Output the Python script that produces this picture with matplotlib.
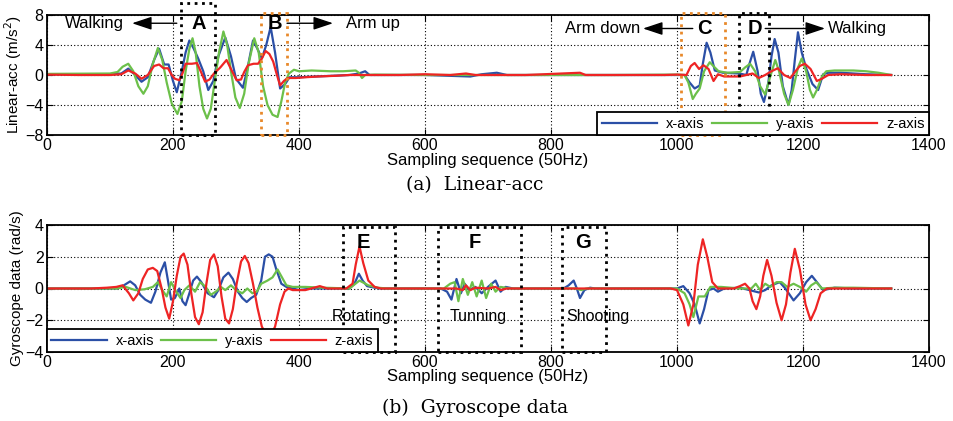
import matplotlib
matplotlib.use("Agg")
import matplotlib.pyplot as plt
from matplotlib.patches import Rectangle

plt.rcParams['font.family'] = ['Liberation Sans', 'DejaVu Sans']

# ---------------- data (sample index, value) ----------------
acc_x = [(0,0.1),(100,0.1),(118,0.2),(129,0.85),(140,0.0),(150,-0.9),(160,-0.3),(170,2.0),(178,3.5),(186,1.4),
         (193,1.4),(200,-0.8),(206,-2.3),(214,0.5),(220,3.0),(226,4.6),(233,3.5),(240,2.2),(248,0.5),(256,-2.0),
         (264,-0.8),(272,2.5),(283,5.0),(292,2.5),(300,-0.5),(311,-1.7),(318,0.8),(327,4.6),(334,3.5),(341,2.2),
         (348,4.0),(355,6.4),(362,3.0),(370,-1.8),(378,-1.2),(385,-0.3),(400,-0.3),(480,0.0),(495,0.2),(505,0.5),
         (512,0.0),(530,0.0),(600,0.0),(672,-0.2),(690,0.1),(714,0.3),(730,0.0),(800,0.0),(900,0.0),(1000,0.0),
         (1012,0.0),(1020,-1.0),(1028,-1.8),(1036,-1.4),(1041,1.5),(1047,4.3),(1053,3.0),(1060,0.6),(1073,0.3),(1099,0.2),
         (1110,0.0),(1115,1.5),(1121,3.1),(1128,0.5),(1133,-2.5),(1138,-3.6),(1145,-1.0),(1150,2.5),(1155,4.8),(1161,3.0),
         (1168,-1.5),(1177,-4.0),(1182,-2.0),(1187,2.0),(1192,5.7),(1198,3.0),(1205,0.9),(1215,-1.2),(1224,-2.0),(1232,0.1),
         (1240,0.3),(1260,0.3),(1300,0.1),(1340,0.0)]
acc_y = [(0,0.15),(100,0.2),(112,0.4),(120,1.1),(129,1.5),(137,0.5),(145,-1.5),(153,-2.5),(160,-1.5),(168,1.5),
         (176,3.6),(183,2.0),(190,-1.0),(198,-3.8),(207,-5.2),(214,-3.5),(220,0.5),(226,3.5),(231,4.9),(236,3.0),
         (242,-1.5),(248,-4.5),(254,-5.8),(260,-4.5),(266,-1.0),(273,3.0),(280,5.8),(286,4.0),(292,0.5),(299,-3.0),
         (306,-4.4),(313,-2.5),(320,1.5),(329,4.9),(336,3.0),(343,-1.5),(350,-4.0),(358,-5.3),(366,-5.6),(372,-3.5),
         (378,-1.0),(384,0.2),(392,0.7),(400,0.5),(420,0.6),(450,0.5),(470,0.5),(490,0.6),(495,0.3),(500,-0.4),
         (505,0.0),(520,0.05),(600,0.0),(700,0.0),(800,0.0),(900,0.0),(1000,0.05),(1012,0.0),(1018,-1.0),(1025,-3.2),
         (1030,-2.5),(1036,-1.8),(1043,0.5),(1052,1.7),(1060,1.0),(1066,0.5),(1080,0.3),(1100,0.4),(1108,1.0),(1116,1.5),
         (1124,0.5),(1132,-1.5),(1140,-2.6),(1147,-0.5),(1156,2.0),(1162,0.5),(1170,-2.5),(1177,-4.0),(1184,-2.0),(1192,1.0),
         (1198,2.2),(1205,0.5),(1211,-2.0),(1216,-3.0),(1222,-2.0),(1230,-0.2),(1237,0.5),(1250,0.6),(1280,0.6),(1300,0.5),
         (1320,0.3),(1340,0.0)]
acc_z = [(0,0.05),(50,0.0),(100,0.0),(118,0.1),(129,0.6),(140,0.2),(150,-0.5),(160,0.0),(170,1.2),(178,1.4),
         (185,0.9),(192,0.9),(198,0.0),(203,-0.5),(210,-0.7),(215,0.2),(220,1.5),(230,1.5),(238,1.6),(245,0.3),
         (251,-0.9),(258,-0.6),(265,0.2),(275,1.0),(285,2.0),(292,0.8),(301,-0.7),(308,-0.6),(313,0.4),(319,1.3),
         (328,1.5),(335,1.5),(341,2.2),(347,3.2),(353,2.8),(359,1.8),(365,0.0),(370,-1.4),(376,-0.8),(382,-0.4),
         (395,-0.4),(410,-0.3),(430,-0.2),(460,-0.1),(480,0.0),(560,0.0),(600,0.1),(640,0.0),(665,0.2),(680,0.0),
         (760,0.0),(846,0.3),(855,0.0),(900,0.0),(980,0.0),(1000,0.05),(1015,0.0),(1022,1.2),(1028,1.6),(1035,0.8),
         (1042,1.3),(1050,0.8),(1058,-0.8),(1065,0.1),(1075,-0.2),(1100,-0.2),(1120,0.2),(1130,-0.4),(1140,0.0),(1150,0.5),
         (1160,0.9),(1170,0.0),(1180,-0.4),(1188,0.5),(1195,1.2),(1203,1.5),(1212,0.8),(1222,-0.8),(1230,-0.5),(1240,0.0),
         (1260,0.1),(1300,0.0),(1340,0.0)]

gyr_x = [(0,0.0),(60,0.0),(110,0.0),(122,0.2),(132,0.45),(140,0.2),(148,-0.4),(156,-0.7),(165,-0.9),(172,-0.2),
         (180,1.0),(187,1.65),(192,0.5),(197,-0.7),(203,-0.6),(210,0.0),(215,-0.8),(220,-1.05),(226,-0.3),(232,0.5),
         (238,0.75),(245,0.4),(255,-0.3),(265,-0.55),(272,-0.1),(280,0.7),(288,1.0),(295,0.6),(303,-0.2),(310,-0.6),
         (317,-0.85),(324,-0.6),(332,-0.4),(340,0.5),(346,2.0),(352,2.15),(358,2.0),(364,1.2),(372,0.3),(380,0.1),
         (390,0.0),(400,0.1),(420,0.0),(480,0.0),(488,0.3),(495,0.93),(501,0.5),(508,0.15),(520,0.05),(530,0.0),
         (625,0.0),(635,-0.2),(642,-0.7),(650,0.6),(657,-0.3),(663,0.3),(670,-0.1),(680,0.1),(690,-0.3),(700,0.1),
         (712,0.5),(720,-0.2),(728,0.1),(740,0.0),(820,0.0),(828,0.2),(836,0.5),(841,0.0),(846,-0.6),(853,-0.1),
         (862,0.05),(870,0.0),(1000,0.0),(1010,0.15),(1020,-0.3),(1028,-1.0),(1036,-2.2),(1043,-1.3),(1050,-0.1),(1058,0.0),
         (1065,-0.2),(1075,0.0),(1100,0.05),(1115,-0.1),(1130,-0.25),(1140,-0.1),(1150,0.2),(1163,0.4),(1172,0.0),(1185,-0.75),
         (1195,-0.3),(1205,0.4),(1214,0.8),(1222,0.4),(1232,-0.1),(1250,0.05),(1280,0.0),(1340,0.0)]
gyr_y = [(0,0.0),(110,0.0),(125,0.1),(140,-0.1),(155,-0.05),(168,0.1),(176,0.4),(183,-0.1),(190,-0.5),(197,0.4),
         (205,-0.2),(212,-0.6),(218,-0.1),(226,0.2),(235,-0.2),(243,0.4),(252,0.1),(260,-0.4),(268,-0.2),(276,0.1),
         (283,-0.1),(292,0.2),(300,-0.1),(310,-0.3),(318,0.0),(326,-0.3),(333,-0.2),(340,0.3),(350,0.5),(358,0.7),
         (366,1.2),(373,0.7),(380,0.2),(390,0.1),(410,0.1),(440,0.05),(480,0.0),(496,0.5),(510,0.2),(525,0.05),
         (540,0.0),(630,0.0),(640,0.3),(647,0.4),(653,-0.8),(660,0.6),(668,-0.4),(675,0.4),(682,-0.5),(690,0.5),
         (697,-0.6),(705,0.3),(712,-0.2),(720,0.1),(735,0.0),(840,0.0),(848,-0.1),(856,0.0),(1000,0.0),(1012,-0.3),
         (1020,-1.0),(1026,-1.8),(1034,-0.5),(1044,-0.5),(1053,0.1),(1070,0.1),(1100,0.0),(1118,0.0),(1125,0.3),(1132,-0.1),
         (1140,0.3),(1148,0.1),(1158,0.4),(1166,0.4),(1175,0.1),(1185,0.3),(1195,0.1),(1205,-0.2),(1213,0.2),(1221,0.4),
         (1230,0.0),(1250,0.05),(1280,0.05),(1340,0.0)]
gyr_z = [(0,0.0),(70,0.0),(95,0.05),(110,0.1),(120,0.2),(130,-0.3),(137,-0.75),(145,-0.3),(152,0.6),(160,1.2),
         (168,1.3),(175,1.1),(182,0.0),(188,-1.2),(194,-1.9),(200,-0.8),(206,0.8),(212,2.0),(217,2.2),(223,1.5),
         (229,-0.3),(235,-1.8),(241,-2.25),(247,-1.5),(253,0.3),(259,1.8),(265,2.15),(271,1.4),(277,-0.5),(283,-1.9),
         (289,-2.2),(295,-1.3),(301,0.3),(308,1.7),(314,2.05),(320,1.6),(327,0.3),(334,-1.2),(341,-2.4),(348,-2.9),
         (355,-3.0),(362,-2.4),(370,-1.0),(377,-0.2),(383,0.0),(390,-0.1),(410,-0.1),(433,0.15),(445,0.0),(475,0.0),
         (485,0.3),(490,1.5),(496,2.65),(502,1.6),(510,0.5),(520,0.1),(530,0.0),(650,0.0),(660,-0.1),(665,0.2),
         (672,-0.1),(680,0.05),(700,0.0),(712,0.1),(720,-0.1),(730,0.0),(990,0.0),(1000,-0.1),(1010,-1.0),(1018,-2.33),
         (1026,-1.0),(1033,1.5),(1041,3.1),(1048,2.0),(1056,0.4),(1065,0.0),(1090,0.0),(1100,0.15),(1108,0.3),(1115,0.0),
         (1120,-0.8),(1126,-1.3),(1132,-0.5),(1137,0.8),(1143,1.8),(1150,0.8),(1158,-0.9),(1166,-2.0),(1173,-1.0),(1180,1.0),
         (1187,2.5),(1195,1.2),(1204,-1.0),(1212,-2.0),(1220,-1.3),(1228,-0.3),(1238,0.0),(1340,0.0)]

series_labels = ['x-axis', 'y-axis', 'z-axis']
x_ticks = [0, 200, 400, 600, 800, 1000, 1200, 1400]
acc_yticks = [-8, -4, 0, 4, 8]
gyr_yticks = [-4, -2, 0, 2, 4]

# segment boxes: label, start, end, colour key, letter x
acc_boxes = [('A', 212, 266, 'k', 241), ('B', 340, 381, 'o', 362),
             ('C', 1006, 1076, 'o', 1044), ('D', 1098, 1146, 'k', 1124)]
gyr_boxes = [('E', 470, 552, 502), ('F', 620, 752, 679), ('G', 818, 888, 851)]
gyr_box_labels = [('Rotating', 500), ('Tunning', 685), ('Shooting', 875)]

# ---------------- styling ----------------
BLUE = '#2b4fa6'
GREEN = '#6cc04a'
RED = '#ee2424'
ORANGE = '#e8892a'
colors = [BLUE, GREEN, RED]
FS = 11.5

fig = plt.figure(figsize=(9.54, 4.21), dpi=100)
ax1 = fig.add_axes([47/954, 1-135/421, 882/954, 120/421])
ax2 = fig.add_axes([47/954, 1-352/421, 882/954, 127/421])

def style_axes(ax, yticks, ylim, ylabel):
    ax.set_xlim(0, 1400)
    ax.set_ylim(*ylim)
    ax.set_xticks(x_ticks)
    ax.set_yticks(yticks)
    ax.grid(True, color='black', linestyle=(0, (1, 2.0)), linewidth=0.8)
    ax.tick_params(direction='in', top=True, right=True, length=4, width=0.8,
                   labelsize=11.5, pad=2.5)
    for s in ax.spines.values():
        s.set_linewidth(1.3)
    ax.set_ylabel(ylabel, fontsize=11, labelpad=1)
    ax.set_axisbelow(True)

def plot_series(ax, data_list):
    handles = []
    for d, c, lab in zip(data_list, colors, series_labels):
        t = [p[0] for p in d]
        v = [p[1] for p in d]
        h, = ax.plot(t, v, color=c, lw=1.6, label=lab, solid_joinstyle='round')
        handles.append(h)
    return handles

ap = dict(arrowstyle='-|>,head_length=1.2,head_width=0.4', color='black', lw=1.0,
          shrinkA=0, shrinkB=0, mutation_scale=10)

def make_legend(ax, handles, bbox):
    leg = ax.legend(handles=handles, loc='lower left', bbox_to_anchor=bbox,
                    mode='expand', ncol=3, fontsize=10.5, frameon=True, fancybox=False,
                    edgecolor='black', framealpha=1, borderaxespad=0, handlelength=3.8,
                    handletextpad=0.6, borderpad=0.3, columnspacing=1.0)
    leg.get_frame().set_linewidth(1.3)
    leg.set_zorder(6)
    return leg

# ---- top panel ----
style_axes(ax1, acc_yticks, (-8, 8), 'Linear-acc (m/s$^2$)')
h1 = plot_series(ax1, [acc_x, acc_y, acc_z])
ax1.set_xlabel('Sampling sequence (50Hz)', fontsize=12, labelpad=0)
for lab, x0, x1, c, xl in acc_boxes:
    col = 'black' if c == 'k' else ORANGE
    top = 9.6 if lab == 'A' else 8.3
    ax1.add_patch(Rectangle((x0, -8), x1 - x0, top + 8, fill=False, edgecolor=col,
                            linestyle=':', linewidth=2, clip_on=False, zorder=4))
    yl = 6.9 if lab in 'AB' else 6.2
    ax1.text(xl, yl, lab, fontsize=14.5, fontweight='bold', ha='center', va='center', zorder=5)
ax1.text(75, 6.9, 'Walking', fontsize=FS + 0.5, ha='center', va='center')
ax1.text(518, 6.9, 'Arm up', fontsize=FS + 0.5, ha='center', va='center')
ax1.text(882, 6.2, 'Arm down', fontsize=FS + 0.5, ha='center', va='center')
ax1.text(1287, 6.2, 'Walking', fontsize=FS + 0.5, ha='center', va='center')
ax1.annotate('', xy=(135, 6.9), xytext=(206, 6.9), arrowprops=ap)
ax1.annotate('', xy=(454, 6.9), xytext=(381, 6.9), arrowprops=ap)
ax1.annotate('', xy=(946, 6.2), xytext=(1025, 6.2), arrowprops=ap)
ax1.annotate('', xy=(1235, 6.2), xytext=(1140, 6.2), arrowprops=ap)
make_legend(ax1, h1, (0.624, 0, 0.376, 0.19))

# ---- bottom panel ----
style_axes(ax2, gyr_yticks, (-4, 4), 'Gyroscope data (rad/s)')
h2 = plot_series(ax2, [gyr_x, gyr_y, gyr_z])
ax2.set_xlabel('Sampling sequence (50Hz)', fontsize=12, labelpad=-1)
for lab, x0, x1, xl in gyr_boxes:
    ax2.add_patch(Rectangle((x0, -4), x1 - x0, 7.9, fill=False, edgecolor='black',
                            linestyle=':', linewidth=2, clip_on=False, zorder=4))
    ax2.text(xl, 2.9, lab, fontsize=14.5, fontweight='bold', ha='center', va='center', zorder=5)
for lab, xc in gyr_box_labels:
    ax2.text(xc, -1.76, lab, fontsize=FS, ha='center', va='center', zorder=5)
make_legend(ax2, h2, (0, 0, 0.375, 0.19))

fig.text(475/954, 1-185/421, '(a)  Linear-acc', family='DejaVu Serif', fontsize=13.5,
         ha='center', va='center')
fig.text(475/954, 1-408/421, '(b)  Gyroscope data', family='DejaVu Serif', fontsize=13.5,
         ha='center', va='center')

fig.savefig('out.png', dpi=100)
